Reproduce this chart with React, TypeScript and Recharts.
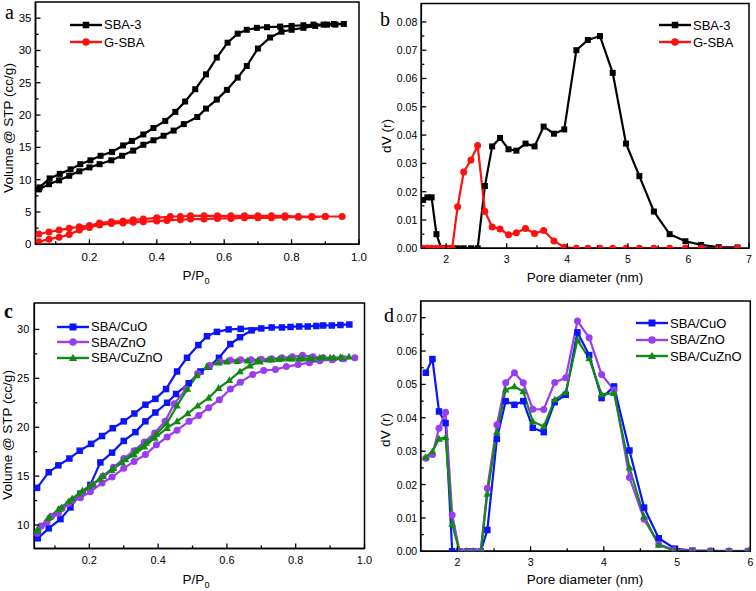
import React from "react"
import { LineChart, Line, XAxis, YAxis, ReferenceArea, Legend } from "recharts"

const FONT = "'Liberation Sans', Arial, Helvetica, sans-serif"

// ---- panel a: N2 isotherms (adsorption then desorption, drawn as one loop)
const aSbaAdsP = [0.05, 0.08, 0.11, 0.14, 0.17, 0.2, 0.23, 0.265, 0.297, 0.33, 0.36, 0.39, 0.42, 0.45, 0.48, 0.52, 0.546, 0.578, 0.608, 0.64, 0.667, 0.7, 0.736, 0.77, 0.8, 0.835, 0.87, 0.905, 0.93, 0.955]
const aSbaAdsV = [8.5, 9.3, 9.9, 10.6, 11.3, 11.9, 12.4, 13.0, 13.7, 14.5, 15.4, 16.1, 16.8, 17.6, 18.6, 19.7, 21.0, 22.4, 23.9, 25.8, 27.6, 30.3, 32.0, 32.9, 33.2, 33.5, 33.8, 34.0, 34.0, 34.1]
const aSbaDesP = [0.925, 0.895, 0.865, 0.835, 0.8, 0.766, 0.727, 0.697, 0.667, 0.64, 0.61, 0.578, 0.546, 0.514, 0.484, 0.455, 0.425, 0.39, 0.36, 0.326, 0.3, 0.267, 0.233, 0.203, 0.173, 0.144, 0.112, 0.082, 0.052]
const aSbaDesV = [34.1, 34.0, 34.0, 33.9, 33.8, 33.7, 33.6, 33.5, 33.2, 32.6, 31.2, 28.9, 26.3, 24.0, 22.1, 20.5, 19.1, 18.0, 17.0, 16.0, 15.3, 14.3, 13.7, 13.0, 12.4, 11.6, 10.9, 10.2, 8.8]
const aGsbaAdsP = [0.05, 0.08, 0.11, 0.14, 0.17, 0.2, 0.23, 0.265, 0.3, 0.33, 0.36, 0.4, 0.43, 0.47, 0.5, 0.54, 0.58, 0.62, 0.66, 0.7, 0.74, 0.78, 0.82, 0.86, 0.9, 0.95]
const aGsbaAdsV = [0.4, 0.8, 1.1, 1.5, 2.2, 2.6, 3.0, 3.2, 3.3, 3.4, 3.5, 3.6, 3.7, 3.8, 3.9, 3.9, 4.0, 4.0, 4.1, 4.1, 4.1, 4.2, 4.2, 4.2, 4.3, 4.3]
const aGsbaDesP = [0.9, 0.86, 0.82, 0.78, 0.74, 0.7, 0.66, 0.62, 0.58, 0.54, 0.5, 0.47, 0.44, 0.4, 0.36, 0.33, 0.3, 0.265, 0.23, 0.2, 0.17, 0.14, 0.11, 0.08, 0.05]
const aGsbaDesV = [4.3, 4.3, 4.3, 4.4, 4.4, 4.4, 4.4, 4.4, 4.4, 4.4, 4.4, 4.3, 4.3, 4.1, 3.9, 3.8, 3.6, 3.5, 3.3, 2.9, 2.7, 2.5, 2.2, 1.9, 1.6]

// ---- panel b: pore size distribution
const bDiam = [1.62, 1.69, 1.76, 1.84, 1.92, 2.01, 2.1, 2.19, 2.29, 2.41, 2.52, 2.64, 2.76, 2.89, 3.03, 3.16, 3.31, 3.46, 3.61, 3.78, 3.95, 4.15, 4.34, 4.54, 4.75, 4.97, 5.19, 5.43, 5.69, 5.95, 6.21, 6.5, 6.81]
const bSba = [0.0171, 0.018, 0.018, 0.005, 0, 0, 0, 0, 0, 0, 0, 0.022, 0.036, 0.039, 0.035, 0.0345, 0.037, 0.036, 0.043, 0.0405, 0.042, 0.07, 0.0736, 0.075, 0.062, 0.037, 0.0255, 0.013, 0.005, 0.0025, 0.0012, 0.0004, 0.0003]
const bGsba = [0, 0, 0, 0, 0, 0, 0, 0.0147, 0.027, 0.0312, 0.0363, 0.013, 0.0075, 0.0068, 0.0048, 0.0055, 0.007, 0.0052, 0.0063, 0.0026, 0.0004, 0, 0, 0, 0, 0, 0, 0, 0, 0, 0, 0, 0]

// ---- panel c: isotherms of loaded samples
const cCuoAdsP = [0.05, 0.082, 0.116, 0.145, 0.174, 0.203, 0.232, 0.266, 0.3, 0.334, 0.363, 0.392, 0.426, 0.452, 0.489, 0.523, 0.548, 0.577, 0.61, 0.638, 0.672, 0.7, 0.73, 0.76, 0.785, 0.81, 0.835, 0.86, 0.88, 0.905, 0.93, 0.956]
const cCuoAdsV = [8.64, 9.66, 10.6, 11.8, 13.2, 14.1, 16.4, 17.4, 18.6, 19.5, 20.6, 21.5, 22.5, 23.4, 24.5, 25.7, 26.2, 27.1, 28.5, 29.2, 29.9, 30.1, 30.2, 30.2, 30.25, 30.3, 30.3, 30.35, 30.4, 30.4, 30.45, 30.5]
const cCuoDesP = [0.64, 0.605, 0.571, 0.542, 0.517, 0.484, 0.455, 0.423, 0.392, 0.363, 0.331, 0.3, 0.268, 0.237, 0.205, 0.172, 0.142, 0.11, 0.082, 0.048]
const cCuoDesV = [30.05, 30.0, 29.75, 29.3, 28.4, 27.1, 25.7, 23.9, 22.9, 22.3, 21.4, 20.6, 19.9, 19.1, 18.3, 17.6, 16.8, 16.1, 15.4, 13.8]
const cZnoAdsP = [0.048, 0.077, 0.11, 0.14, 0.174, 0.203, 0.237, 0.266, 0.3, 0.33, 0.363, 0.395, 0.426, 0.455, 0.49, 0.518, 0.547, 0.578, 0.61, 0.639, 0.675, 0.707, 0.741, 0.773, 0.807, 0.84, 0.87, 0.906, 0.935, 0.972]
const cZnoAdsV = [9.15, 10.3, 11.2, 12.2, 12.8, 13.4, 14.3, 14.9, 15.8, 16.5, 17.2, 18.2, 19.0, 19.7, 20.6, 21.2, 22.0, 22.8, 23.9, 24.6, 25.4, 25.8, 25.9, 26.2, 26.4, 26.6, 26.8, 26.9, 27.0, 27.1]
const cZnoDesP = [0.94, 0.91, 0.88, 0.85, 0.82, 0.79, 0.76, 0.73, 0.7, 0.67, 0.64, 0.61, 0.58, 0.55, 0.515, 0.481, 0.447, 0.42, 0.39, 0.36, 0.33, 0.3, 0.27, 0.24, 0.21, 0.18, 0.15, 0.12, 0.09, 0.06, 0.05]
const cZnoDesV = [27.0, 27.0, 27.1, 27.2, 27.35, 27.2, 27.1, 27.0, 26.95, 26.9, 26.9, 26.85, 26.7, 26.3, 25.5, 23.9, 22.4, 20.6, 19.4, 18.5, 17.6, 16.8, 15.9, 15.0, 14.1, 13.3, 12.5, 11.7, 10.9, 9.9, 9.3]
const cCuznoAdsP = [0.05, 0.08, 0.11, 0.14, 0.17, 0.2, 0.23, 0.265, 0.295, 0.33, 0.36, 0.39, 0.426, 0.455, 0.486, 0.515, 0.547, 0.576, 0.607, 0.638, 0.667, 0.696, 0.73, 0.76, 0.79, 0.82, 0.85, 0.88, 0.91, 0.935, 0.955]
const cCuznoAdsV = [9.4, 10.7, 11.6, 12.4, 13.2, 13.9, 14.7, 15.6, 16.4, 17.2, 18.0, 18.9, 19.9, 20.6, 21.4, 22.2, 23.0, 24.0, 24.8, 25.7, 26.3, 26.7, 26.9, 27.0, 27.0, 27.0, 27.0, 27.1, 27.1, 27.1, 27.2]
const cCuznoDesP = [0.93, 0.9, 0.87, 0.84, 0.81, 0.78, 0.75, 0.72, 0.69, 0.66, 0.63, 0.6, 0.576, 0.542, 0.513, 0.485, 0.455, 0.425, 0.395, 0.365, 0.335, 0.305, 0.27, 0.24, 0.21, 0.18, 0.15, 0.12, 0.085, 0.05]
const cCuznoDesV = [27.15, 27.1, 27.1, 27.05, 27.0, 27.0, 26.95, 26.9, 26.85, 26.8, 26.75, 26.7, 26.6, 26.2, 25.3, 23.9, 22.2, 20.4, 19.3, 18.4, 17.6, 16.7, 15.8, 15.0, 14.2, 13.5, 12.7, 11.8, 10.8, 9.6]

// ---- panel d: pore size distribution of loaded samples
const dDiam = [1.57, 1.66, 1.75, 1.84, 1.93, 2.03, 2.13, 2.22, 2.32, 2.41, 2.54, 2.66, 2.78, 2.9, 3.03, 3.18, 3.33, 3.48, 3.64, 3.8, 3.97, 4.14, 4.35, 4.55, 4.75, 4.97, 5.21, 5.46, 5.71, 5.97]
const dCuo = [0.0535, 0.0576, 0.0419, 0.0384, 0, 0, 0, 0, 0, 0.0064, 0.0337, 0.045, 0.0439, 0.045, 0.037, 0.0357, 0.0447, 0.0469, 0.0656, 0.0588, 0.0459, 0.0494, 0.0302, 0.0131, 0.0039, 0.0008, 0.0002, 0.0001, 0, 0]
const dZno = [0.0279, 0.029, 0.0369, 0.0417, 0.0109, 0, 0, 0, 0, 0.0189, 0.0379, 0.0505, 0.0535, 0.0505, 0.0426, 0.0425, 0.0506, 0.052, 0.069, 0.064, 0.053, 0.0483, 0.0221, 0.0096, 0.0021, 0.0004, 0.0002, 0.0001, 0.0001, 0.0001]
const dCuzno = [0.0282, 0.0299, 0.0337, 0.0341, 0.0081, 0, 0, 0, 0, 0.0172, 0.0357, 0.0484, 0.0494, 0.0479, 0.0389, 0.0374, 0.0454, 0.0476, 0.0633, 0.0578, 0.047, 0.0474, 0.0251, 0.0104, 0.0019, 0.0001, 0, 0, 0, 0]

// ---- ticks
const isoTicks = [0.1, 0.2, 0.3, 0.4, 0.5, 0.6, 0.7, 0.8, 0.9, 1.0]
const isoMajor = [0.2, 0.4, 0.6, 0.8, 1.0]
const aYTicks = [0, 2.5, 5, 7.5, 10, 12.5, 15, 17.5, 20, 22.5, 25, 27.5, 30, 32.5, 35]
const aYMajor = [0, 5, 10, 15, 20, 25, 30, 35]
const bXTicks = [2, 2.5, 3, 3.5, 4, 4.5, 5, 5.5, 6, 6.5, 7]
const bXMajor = [2, 3, 4, 5, 6, 7]
const bYTicks = [0, 0.005, 0.01, 0.015, 0.02, 0.025, 0.03, 0.035, 0.04, 0.045, 0.05, 0.055, 0.06, 0.065, 0.07, 0.075, 0.08]
const bYMajor = [0, 0.01, 0.02, 0.03, 0.04, 0.05, 0.06, 0.07, 0.08]
const cYTicks = [10, 12.5, 15, 17.5, 20, 22.5, 25, 27.5, 30]
const cYMajor = [10, 15, 20, 25, 30]
const dXTicks = [2, 2.5, 3, 3.5, 4, 4.5, 5, 5.5, 6]
const dXMajor = [2, 3, 4, 5, 6]
const dYTicks = [0, 0.005, 0.01, 0.015, 0.02, 0.025, 0.03, 0.035, 0.04, 0.045, 0.05, 0.055, 0.06, 0.065, 0.07]
const dYMajor = [0, 0.01, 0.02, 0.03, 0.04, 0.05, 0.06, 0.07]

type Pt = { x: number; y: number }
type Shape = "square" | "circle" | "triangle"
type Series = { name: string; color: string; shape: Shape; size: number; data: Pt[] }

const zip = (xs: number[], ys: number[]): Pt[] => xs.map((x, i) => ({ x, y: ys[i] }))
const loop = (ap: number[], av: number[], dp: number[], dv: number[]) => zip([...ap, ...dp], [...av, ...dv])
const isIn = (arr: number[], v: number) => arr.some((m) => Math.abs(m - v) < 1e-9)

const BLACK = "#000000"
const RED = "#ff1010"
const BLUE = "#0a14ff"
const PURPLE = "#9a3cf0"
const GREEN = "#108a10"

function Marker({ shape, cx, cy, color, size }: { shape: Shape; cx: number; cy: number; color: string; size: number }) {
  if (cx == null || cy == null || isNaN(cx) || isNaN(cy)) return null
  const h = size / 2
  if (shape === "square") return <rect x={cx - h} y={cy - h} width={size} height={size} fill={color} />
  if (shape === "circle") return <circle cx={cx} cy={cy} r={h} fill={color} />
  return <path d={`M${cx},${cy - h * 1.15} L${cx + h * 1.1},${cy + h * 0.8} L${cx - h * 1.1},${cy + h * 0.8} Z`} fill={color} />
}

type PanelProps = {
  box: { x: number; y: number; w: number; h: number }
  plot: { l: number; t: number; r: number; b: number }
  xDomain: [number, number]
  yDomain: [number, number]
  xTicks: number[]
  xMajor: number[]
  yTicks: number[]
  yMajor: number[]
  xFmt: (v: number) => string
  yFmt: (v: number) => string
  tickFont: number
  xTickDy: number
  yTickGap: number
  xTitle: string
  xSub?: string
  xTitlePos: [number, number]
  yTitle: string
  yTitlePos: [number, number]
  series: Series[]
  legend: { x: number; y: number; rowH: number; font: number }
}

function Panel(p: PanelProps) {
  const { box, plot } = p
  const axisY = plot.b - box.y
  const axisX = plot.l - box.x

  const xTick = (t: any) => {
    const v = t.payload.value
    const major = isIn(p.xMajor, v)
    return (
      <g key={`xt-${v}`}>
        <line x1={t.x} x2={t.x} y1={axisY} y2={axisY - (major ? 5 : 3)} stroke="#000" strokeWidth={1.3} />
        {major && (
          <text x={t.x} y={axisY + p.xTickDy} textAnchor="middle" dominantBaseline="central" fontSize={p.tickFont} fontFamily={FONT} fill="#000">
            {p.xFmt(v)}
          </text>
        )}
      </g>
    )
  }

  const yTick = (t: any) => {
    const v = t.payload.value
    const major = isIn(p.yMajor, v)
    return (
      <g key={`yt-${v}`}>
        <line x1={axisX} x2={axisX + (major ? 5 : 3)} y1={t.y} y2={t.y} stroke="#000" strokeWidth={1.3} />
        {major && (
          <text x={axisX - p.yTickGap} y={t.y} textAnchor="end" dominantBaseline="central" fontSize={p.tickFont} fontFamily={FONT} fill="#000">
            {p.yFmt(v)}
          </text>
        )}
      </g>
    )
  }

  const xLabel = () => (
    <text x={p.xTitlePos[0] - box.x} y={p.xTitlePos[1] - box.y} textAnchor="middle" fontSize={13.5} fontFamily={FONT} fill="#000">
      {p.xTitle}
      {p.xSub && (
        <tspan fontSize={9} dy={4}>
          {p.xSub}
        </tspan>
      )}
    </text>
  )

  const yLabel = () => {
    const x = p.yTitlePos[0] - box.x
    const y = p.yTitlePos[1] - box.y
    return (
      <text x={x} y={y} transform={`rotate(-90 ${x} ${y})`} textAnchor="middle" dominantBaseline="central" fontSize={13.5} fontFamily={FONT} fill="#000">
        {p.yTitle}
      </text>
    )
  }

  const legendContent = () => (
    <div style={{ fontFamily: FONT, fontSize: p.legend.font, color: "#000" }}>
      {p.series.map((s) => (
        <div key={s.name} style={{ display: "flex", alignItems: "center", height: p.legend.rowH, whiteSpace: "nowrap" }}>
          <svg width={32} height={12} style={{ display: "block" }}>
            <line x1={0} x2={32} y1={6} y2={6} stroke={s.color} strokeWidth={2.4} />
            <Marker shape={s.shape} cx={16} cy={6} color={s.color} size={s.size + 0.5} />
          </svg>
          <span style={{ marginLeft: 2 }}>{s.name}</span>
        </div>
      ))}
    </div>
  )

  return (
    <div style={{ position: "absolute", left: box.x, top: box.y, width: box.w, height: box.h }}>
      <LineChart
        width={box.w}
        height={box.h}
        margin={{ top: plot.t - box.y, right: box.x + box.w - plot.r, bottom: 0, left: 0 }}
      >
        <XAxis
          type="number"
          dataKey="x"
          domain={p.xDomain}
          allowDataOverflow
          ticks={p.xTicks}
          interval={0}
          tick={xTick}
          tickLine={false}
          axisLine={{ stroke: "#000", strokeWidth: 1.5 }}
          height={box.y + box.h - plot.b}
          label={xLabel}
        />
        <YAxis
          type="number"
          domain={p.yDomain}
          allowDataOverflow
          ticks={p.yTicks}
          interval={0}
          tick={yTick}
          tickLine={false}
          axisLine={{ stroke: "#000", strokeWidth: 1.5 }}
          width={plot.l - box.x}
          label={yLabel}
        />
        <ReferenceArea x1={p.xDomain[0]} x2={p.xDomain[1]} y1={p.yDomain[0]} y2={p.yDomain[1]} fill="none" stroke="#000" strokeWidth={1.5} />
        {p.series.map((s) => (
          <Line
            key={s.name}
            name={s.name}
            data={s.data}
            dataKey="y"
            type="linear"
            stroke={s.color}
            strokeWidth={2.2}
            dot={(d: any) => <Marker key={`${s.name}-${d.index}`} shape={s.shape} cx={d.cx} cy={d.cy} color={s.color} size={s.size} />}
            activeDot={false}
            isAnimationActive={false}
          />
        ))}
        <Legend
          layout="vertical"
          align="center"
          verticalAlign="middle"
          content={legendContent}
          wrapperStyle={{ left: p.legend.x - box.x, top: p.legend.y - box.y, width: "auto", height: "auto" }}
        />
      </LineChart>
    </div>
  )
}

const fmt1 = (v: number) => v.toFixed(1)
const fmt0 = (v: number) => String(Math.round(v))
const fmt2 = (v: number) => v.toFixed(2)

// panel letters: text, baseline position, weight
const letters = [
  { text: "a", x: 5, y: 18.5, bold: false },
  { text: "b", x: 380, y: 26, bold: false },
  { text: "c", x: 4, y: 318, bold: true },
  { text: "d", x: 384, y: 322, bold: false },
]

export default function App() {
  const aSeries: Series[] = [
    { name: "SBA-3", color: BLACK, shape: "square", size: 6, data: loop(aSbaAdsP, aSbaAdsV, aSbaDesP, aSbaDesV) },
    { name: "G-SBA", color: RED, shape: "circle", size: 7, data: loop(aGsbaAdsP, aGsbaAdsV, aGsbaDesP, aGsbaDesV) },
  ]
  const bSeries: Series[] = [
    { name: "SBA-3", color: BLACK, shape: "square", size: 6, data: zip(bDiam, bSba) },
    { name: "G-SBA", color: RED, shape: "circle", size: 7, data: zip(bDiam, bGsba) },
  ]
  const cSeries: Series[] = [
    { name: "SBA/CuO", color: BLUE, shape: "square", size: 6.5, data: loop(cCuoAdsP, cCuoAdsV, cCuoDesP, cCuoDesV) },
    { name: "SBA/ZnO", color: PURPLE, shape: "circle", size: 7, data: loop(cZnoAdsP, cZnoAdsV, cZnoDesP, cZnoDesV) },
    { name: "SBA/CuZnO", color: GREEN, shape: "triangle", size: 7, data: loop(cCuznoAdsP, cCuznoAdsV, cCuznoDesP, cCuznoDesV) },
  ]
  const dSeries: Series[] = [
    { name: "SBA/CuO", color: BLUE, shape: "square", size: 6.5, data: zip(dDiam, dCuo) },
    { name: "SBA/ZnO", color: PURPLE, shape: "circle", size: 7, data: zip(dDiam, dZno) },
    { name: "SBA/CuZnO", color: GREEN, shape: "triangle", size: 7, data: zip(dDiam, dCuzno) },
  ]

  return (
    <div style={{ position: "absolute", left: 0, top: 0, width: 756, height: 591, background: "#fff", overflow: "hidden" }}>
      <Panel
        box={{ x: 0, y: 0, w: 378, h: 295 }}
        plot={{ l: 35.5, t: 2, r: 359, b: 244.3 }}
        xDomain={[0.04, 1.0]}
        yDomain={[0, 37.5]}
        xTicks={isoTicks}
        xMajor={isoMajor}
        yTicks={aYTicks}
        yMajor={aYMajor}
        xFmt={fmt1}
        yFmt={fmt0}
        tickFont={11.5}
        xTickDy={12.5}
        yTickGap={4}
        xTitle="P/P"
        xSub="0"
        xTitlePos={[196, 280]}
        yTitle="Volume @ STP (cc/g)"
        yTitlePos={[8, 128]}
        series={aSeries}
        legend={{ x: 70, y: 16, rowH: 17.5, font: 13 }}
      />
      <Panel
        box={{ x: 378, y: 0, w: 378, h: 295 }}
        plot={{ l: 421.3, t: 3.5, r: 749, b: 248.3 }}
        xDomain={[1.59, 7]}
        yDomain={[0, 0.0865]}
        xTicks={bXTicks}
        xMajor={bXMajor}
        yTicks={bYTicks}
        yMajor={bYMajor}
        xFmt={fmt0}
        yFmt={fmt2}
        tickFont={10.5}
        xTickDy={10.5}
        yTickGap={4}
        xTitle="Pore diameter (nm)"
        xTitlePos={[585, 282]}
        yTitle="dV (r)"
        yTitlePos={[386, 136]}
        series={bSeries}
        legend={{ x: 659, y: 16.5, rowH: 17.3, font: 13 }}
      />
      <Panel
        box={{ x: 0, y: 295, w: 378, h: 296 }}
        plot={{ l: 34.3, t: 303, r: 364.5, b: 548.5 }}
        xDomain={[0.04, 1.0]}
        yDomain={[7.6, 32.7]}
        xTicks={isoTicks}
        xMajor={isoMajor}
        yTicks={cYTicks}
        yMajor={cYMajor}
        xFmt={fmt1}
        yFmt={fmt0}
        tickFont={11}
        xTickDy={11.5}
        yTickGap={5}
        xTitle="P/P"
        xSub="0"
        xTitlePos={[196, 584]}
        yTitle="Volume @ STP (cc/g)"
        yTitlePos={[7, 435]}
        series={cSeries}
        legend={{ x: 57, y: 319, rowH: 15.5, font: 13 }}
      />
      <Panel
        box={{ x: 378, y: 295, w: 378, h: 296 }}
        plot={{ l: 420.7, t: 301, r: 750.3, b: 551.3 }}
        xDomain={[1.5, 6]}
        yDomain={[0, 0.075]}
        xTicks={dXTicks}
        xMajor={dXMajor}
        yTicks={dYTicks}
        yMajor={dYMajor}
        xFmt={fmt0}
        yFmt={fmt2}
        tickFont={10.5}
        xTickDy={10.5}
        yTickGap={3.5}
        xTitle="Pore diameter (nm)"
        xTitlePos={[585, 584]}
        yTitle="dV (r)"
        yTitlePos={[385, 430]}
        series={dSeries}
        legend={{ x: 636, y: 315, rowH: 16.5, font: 13 }}
      />
      <svg width={756} height={591} style={{ position: "absolute", left: 0, top: 0, pointerEvents: "none" }}>
        {letters.map((l) => (
          <text
            key={l.text}
            x={l.x}
            y={l.y}
            fontFamily="'Liberation Serif', 'Times New Roman', serif"
            fontSize={20}
            fontWeight={l.bold ? "bold" : "normal"}
            fill="#000"
          >
            {l.text}
          </text>
        ))}
      </svg>
    </div>
  )
}
